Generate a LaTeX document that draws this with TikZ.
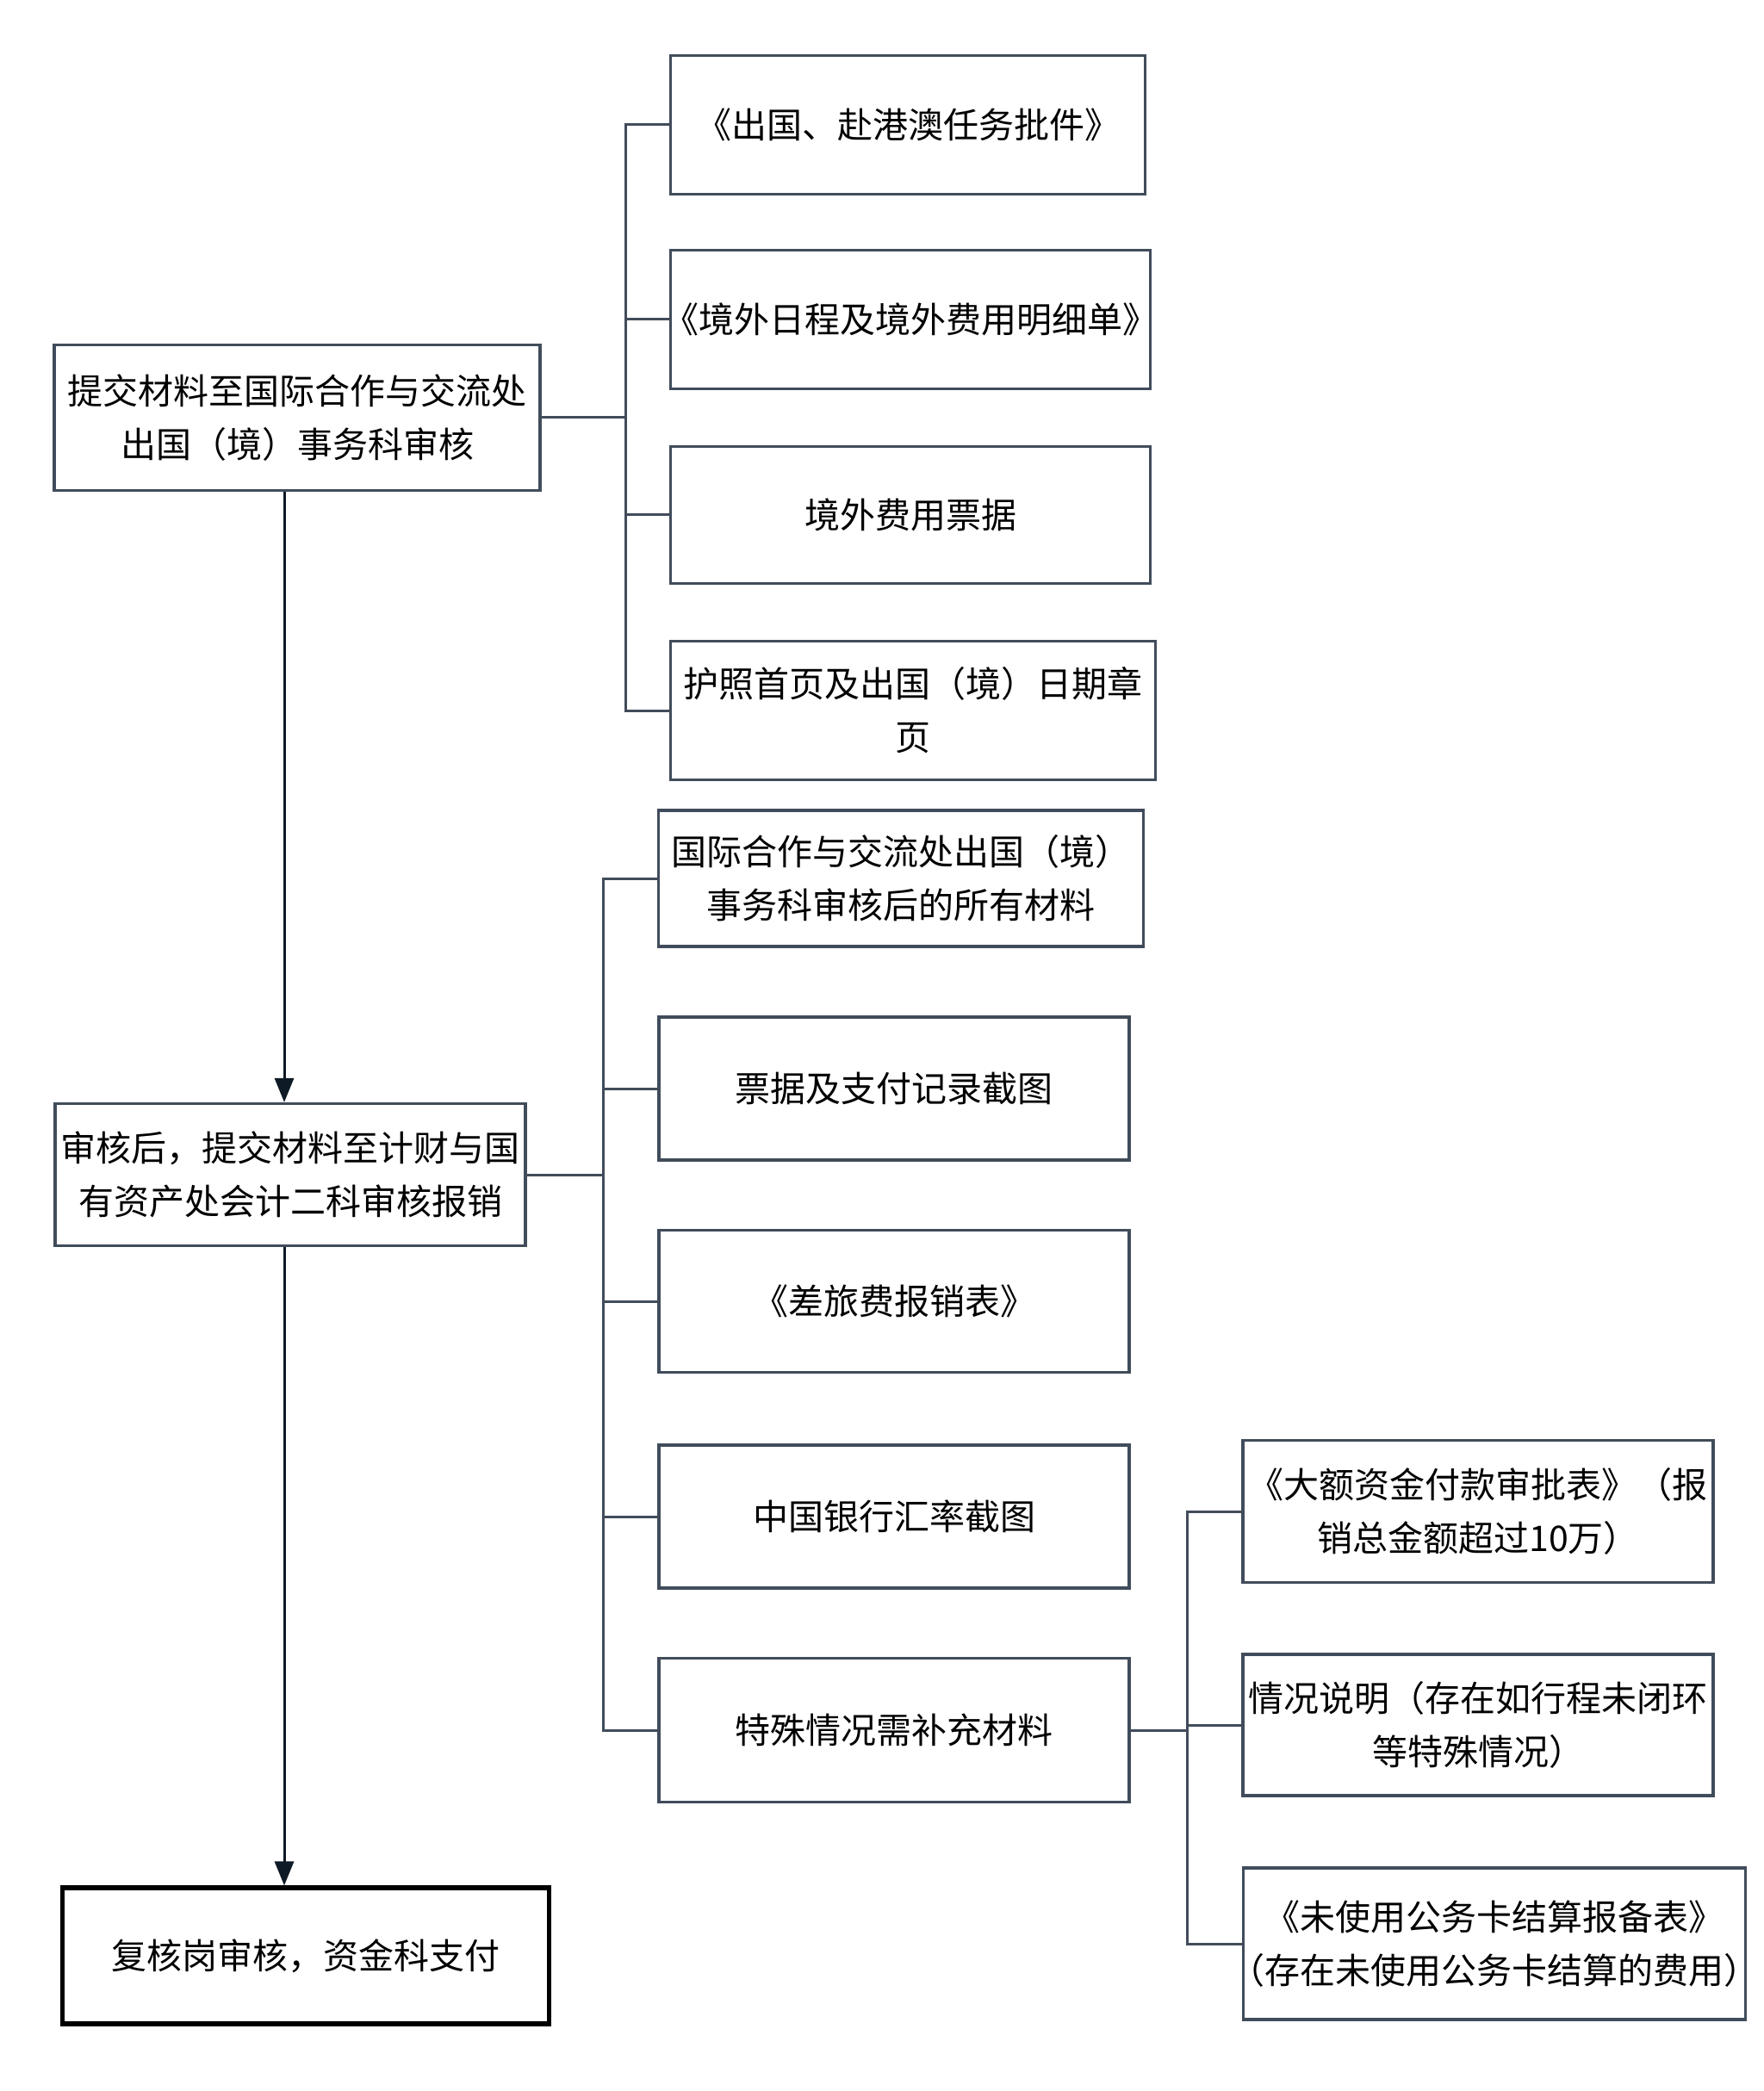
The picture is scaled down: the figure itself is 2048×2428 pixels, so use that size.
\documentclass[tikz,border=0pt]{standalone}
\usepackage{fontspec}
\setmainfont{Noto Sans CJK SC}
\usetikzlibrary{arrows.meta}
\definecolor{boxgray}{HTML}{414C5B}
\definecolor{arrdark}{HTML}{0E1A25}
\newcommand{\zw}[1]{\makebox[0pt][c]{#1}}
\begin{document}
\begin{tikzpicture}[x=0.5pt,y=-0.5pt,
  every node/.style={font=\fontsize{20.5}{31}\selectfont, align=center, inner sep=0pt},
  gbox/.style={draw=boxgray, line width=1.6pt, rectangle},
  fbox/.style={draw=black, line width=2.6pt, rectangle},
  link/.style={draw=boxgray, line width=1.5pt},
  arr/.style={draw=arrdark, line width=1.5pt, -{Triangle[length=14pt,width=11pt]}}]
\useasboundingbox[fill=white] (0,0) rectangle (2048,2428);
% left column
\node[gbox, minimum width=282pt, minimum height=84.5pt] (A) at (345,485) {提交材料至国际合作与交流处\\出国（境）事务科审核};
\node[gbox, minimum width=273pt, minimum height=82.5pt] (B) at (337,1364) {审核后，提交材料至计财与国\\有资产处会计二科审核报销};
\node[fbox, minimum width=282.5pt, minimum height=79pt] (C) at (355,2271) {复核岗审核，资金科支付};
% top group
\node[gbox, minimum width=275.5pt, minimum height=80.5pt] (R1) at (1054,145) {《出国、赴港澳任务批件》};
\node[gbox, minimum width=278.5pt, minimum height=80.5pt] (R2) at (1057,371) {\zw{《境外日程及境外费用明细单》}};
\node[gbox, minimum width=278.5pt, minimum height=79.5pt] (R3) at (1057,598) {境外费用票据};
\node[gbox, minimum width=281.5pt, minimum height=80.5pt] (R4) at (1060,825) {护照首页及出国（境）日期章\\页};
% middle group
\node[gbox, minimum width=281.5pt, minimum height=79pt] (M1) at (1046,1020) {国际合作与交流处出国（境）\\事务科审核后的所有材料};
\node[gbox, minimum width=273pt, minimum height=83pt] (M2) at (1038,1264) {票据及支付记录截图};
\node[gbox, minimum width=273pt, minimum height=82.5pt] (M3) at (1038,1511) {《差旅费报销表》};
\node[gbox, minimum width=273pt, minimum height=83pt] (M4) at (1038,1761) {中国银行汇率截图};
\node[gbox, minimum width=273pt, minimum height=83.5pt] (M5) at (1038,2009) {特殊情况需补充材料};
% special group
\node[gbox, minimum width=273pt, minimum height=82.5pt] (S1) at (1716,1755) {\zw{《大额资金付款审批表》（报}\\\zw{销总金额超过10万）}};
\node[gbox, minimum width=273pt, minimum height=82pt] (S2) at (1716,2003) {\zw{情况说明（存在如行程未闭环}\\\zw{等特殊情况）}};
\node[gbox, minimum width=291.5pt, minimum height=88pt] (S3) at (1735,2257) {\zw{《未使用公务卡结算报备表》}\\\zw{（存在未使用公务卡结算的费用）}};
% bracket coordinates
\coordinate (bA) at (726,0);
\coordinate (bB) at (700,0);
\coordinate (bM) at (1378,0);
\coordinate (ax) at (330,0);
% connectors
\foreach \t in {R1,R2,R3,R4} \draw[link] (A.east) -- (A.east -| bA) |- (\t.west);
\foreach \t in {M1,M2,M3,M4,M5} \draw[link] (B.east) -- (B.east -| bB) |- (\t.west);
\foreach \t in {S1,S2,S3} \draw[link] (M5.east) -- (M5.east -| bM) |- (\t.west);
\draw[arr] (A.south -| ax) -- (B.north -| ax);
\draw[arr] (B.south -| ax) -- (C.north -| ax);
\end{tikzpicture}
\end{document}
